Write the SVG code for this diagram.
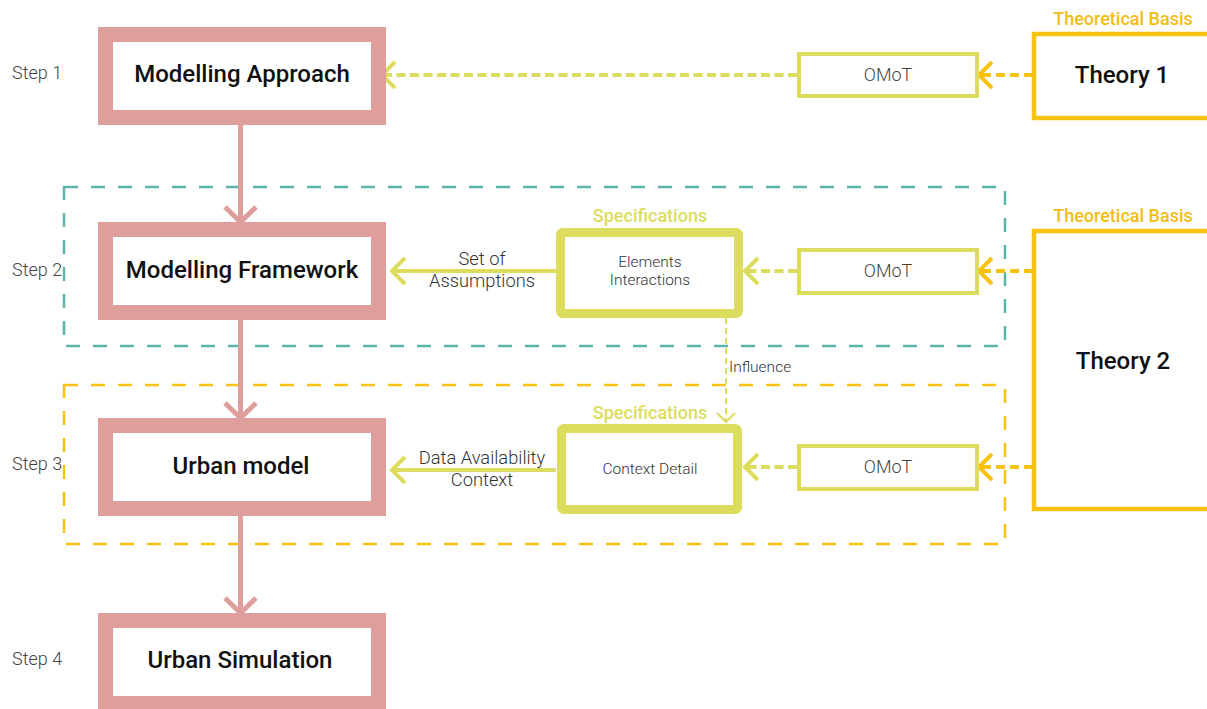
<svg xmlns="http://www.w3.org/2000/svg" width="1207" height="709" viewBox="0 0 1207 709">
  <style>
    .step { font-family: Roboto, "Liberation Sans", sans-serif; font-size: 18px; font-weight: 300; fill: #444; }
    .title { font-family: Roboto, "Liberation Sans", sans-serif; font-size: 24px; font-weight: 500; fill: #111; text-anchor: middle; }
    .small { font-family: Roboto, "Liberation Sans", sans-serif; font-size: 15.5px; font-weight: 300; fill: #333; text-anchor: middle; }
    .label { font-family: Roboto, "Liberation Sans", sans-serif; font-size: 18.3px; font-weight: 300; fill: #333; text-anchor: middle; }
    .omot { font-family: Roboto, "Liberation Sans", sans-serif; font-size: 18px; font-weight: 300; fill: #444; text-anchor: middle; }
    .basis { font-family: Roboto, "Liberation Sans", sans-serif; font-size: 18px; font-weight: 500; fill: #f2bd12; text-anchor: middle; }
    .spec { font-family: Roboto, "Liberation Sans", sans-serif; font-size: 18px; font-weight: 500; fill: #dcdd5e; text-anchor: middle; }
    .stepbox { fill: #fff; stroke: #dd9e9c; stroke-width: 15; }
    .omotbox { fill: #fff; stroke: #dcdd5e; stroke-width: 4; }
    .specbox { fill: #fff; stroke: #dcdd5e; stroke-width: 9; stroke-linejoin: round; }
    .theorybox { fill: #fff; stroke: #f7c210; stroke-width: 4.5; }
    .flow { fill: none; stroke: #dd9e9c; stroke-width: 5; }
    .yg { fill: none; stroke: #dcdd5e; stroke-width: 4; }
    .ygdash { fill: none; stroke: #dcdd5e; stroke-width: 4; stroke-dasharray: 9 4.5; }
    .golddash { fill: none; stroke: #f7c210; stroke-width: 4; stroke-dasharray: 9 5; }
    .gold { fill: none; stroke: #f7c210; stroke-width: 4; }
    .thin { fill: none; stroke: #dcdd5e; stroke-width: 2; stroke-dasharray: 6 4; }
    .thinhead { fill: none; stroke: #dcdd5e; stroke-width: 2; }
    .teal { fill: none; stroke: #5bb5aa; stroke-width: 2.5; stroke-dasharray: 14 13; }
    .goldframe { fill: none; stroke: #f7c210; stroke-width: 2.5; stroke-dasharray: 14 13; }
  </style>

  <!-- step frames -->
  <g id="frame-step2">
    <rect class="teal" x="64" y="187" width="941" height="159"/>
  </g>
  <g id="frame-step3">
    <rect class="goldframe" x="64" y="385" width="941" height="159"/>
  </g>

  <!-- step labels -->
  <g id="step-labels">
    <text class="step" x="12" y="79">Step 1</text>
    <text class="step" x="12" y="276">Step 2</text>
    <text class="step" x="12" y="470">Step 3</text>
    <text class="step" x="12" y="665">Step 4</text>
  </g>

  <!-- connectors -->
  <g id="connectors">
    <!-- main flow -->
    <path class="flow" d="M240.5 125 V220 M225 207 L240.5 222 L256 207"/>
    <path class="flow" d="M240.5 320 V416 M225 403 L240.5 418 L256 403"/>
    <path class="flow" d="M240.5 516 V611 M225 598 L240.5 613 L256 598"/>
    <!-- OMoT to Modelling Approach -->
    <path class="ygdash" d="M797 75 H385"/>
    <path class="yg" d="M395 62 L382 75 L395 88"/>
    <!-- Theory 1 to OMoT -->
    <path class="golddash" d="M1033 75 H982"/>
    <path class="gold" d="M992 62 L979 75 L992 88"/>
    <!-- Step 2 -->
    <path class="yg" d="M556 271 H393"/>
    <path class="yg" d="M405 258 L392 271 L405 284"/>
    <path class="ygdash" d="M797 271 H748"/>
    <path class="yg" d="M758 258 L745 271 L758 284"/>
    <path class="golddash" d="M1033 271 H982"/>
    <path class="gold" d="M992 258 L979 271 L992 284"/>
    <!-- Step 3 -->
    <path class="yg" d="M556 470 H393"/>
    <path class="yg" d="M405 457 L392 470 L405 483"/>
    <path class="ygdash" d="M797 467 H748"/>
    <path class="yg" d="M758 454 L745 467 L758 480"/>
    <path class="golddash" d="M1033 467 H982"/>
    <path class="gold" d="M992 454 L979 467 L992 480"/>
    <!-- influence -->
    <path class="thin" d="M726 318 V421"/>
    <path class="thinhead" d="M717 413 L726 422 L735 413"/>
    <text class="small" x="729" y="372" style="text-anchor:start">Influence</text>
    <!-- connector labels -->
    <text class="label" x="482" y="265">Set of</text>
    <text class="label" x="482" y="287">Assumptions</text>
    <text class="label" x="482" y="464">Data Availability</text>
    <text class="label" x="482" y="486">Context</text>
  </g>

  <!-- step nodes -->
  <g id="modelling-approach">
    <rect class="stepbox" x="105.5" y="34.5" width="273" height="83"/>
    <text class="title" x="242" y="82">Modelling Approach</text>
  </g>
  <g id="modelling-framework">
    <rect class="stepbox" x="105.5" y="229.5" width="273" height="83"/>
    <text class="title" x="242" y="278">Modelling Framework</text>
  </g>
  <g id="urban-model">
    <rect class="stepbox" x="105.5" y="425.5" width="273" height="83"/>
    <text class="title" x="241" y="474">Urban model</text>
  </g>
  <g id="urban-simulation">
    <rect class="stepbox" x="105.5" y="620.5" width="273" height="83"/>
    <text class="title" x="240" y="668">Urban Simulation</text>
  </g>

  <!-- OMoT nodes -->
  <g id="omot-1">
    <rect class="omotbox" x="799" y="54" width="178" height="42"/>
    <text class="omot" x="888" y="81">OMoT</text>
  </g>
  <g id="omot-2">
    <rect class="omotbox" x="799" y="250" width="178" height="43"/>
    <text class="omot" x="888" y="277">OMoT</text>
  </g>
  <g id="omot-3">
    <rect class="omotbox" x="799" y="446" width="178" height="43"/>
    <text class="omot" x="888" y="473">OMoT</text>
  </g>

  <!-- specification nodes -->
  <g id="spec-elements">
    <text class="spec" x="650" y="222">Specifications</text>
    <rect class="specbox" x="560.5" y="232.5" width="178" height="81" rx="2"/>
    <text class="small" x="650" y="267">Elements</text>
    <text class="small" x="650" y="285">Interactions</text>
  </g>
  <g id="spec-context">
    <text class="spec" x="650" y="419">Specifications</text>
    <rect class="specbox" x="561.5" y="428.5" width="176" height="81" rx="2"/>
    <text class="small" x="650" y="474">Context Detail</text>
  </g>

  <!-- theory nodes -->
  <g id="theory-1">
    <text class="basis" x="1123" y="25">Theoretical Basis</text>
    <rect class="theorybox" x="1034" y="34" width="190" height="84"/>
    <text class="title" x="1122" y="83">Theory 1</text>
  </g>
  <g id="theory-2">
    <text class="basis" x="1123" y="222">Theoretical Basis</text>
    <rect class="theorybox" x="1034" y="231" width="190" height="278"/>
    <text class="title" x="1123" y="369">Theory 2</text>
  </g>
</svg>
